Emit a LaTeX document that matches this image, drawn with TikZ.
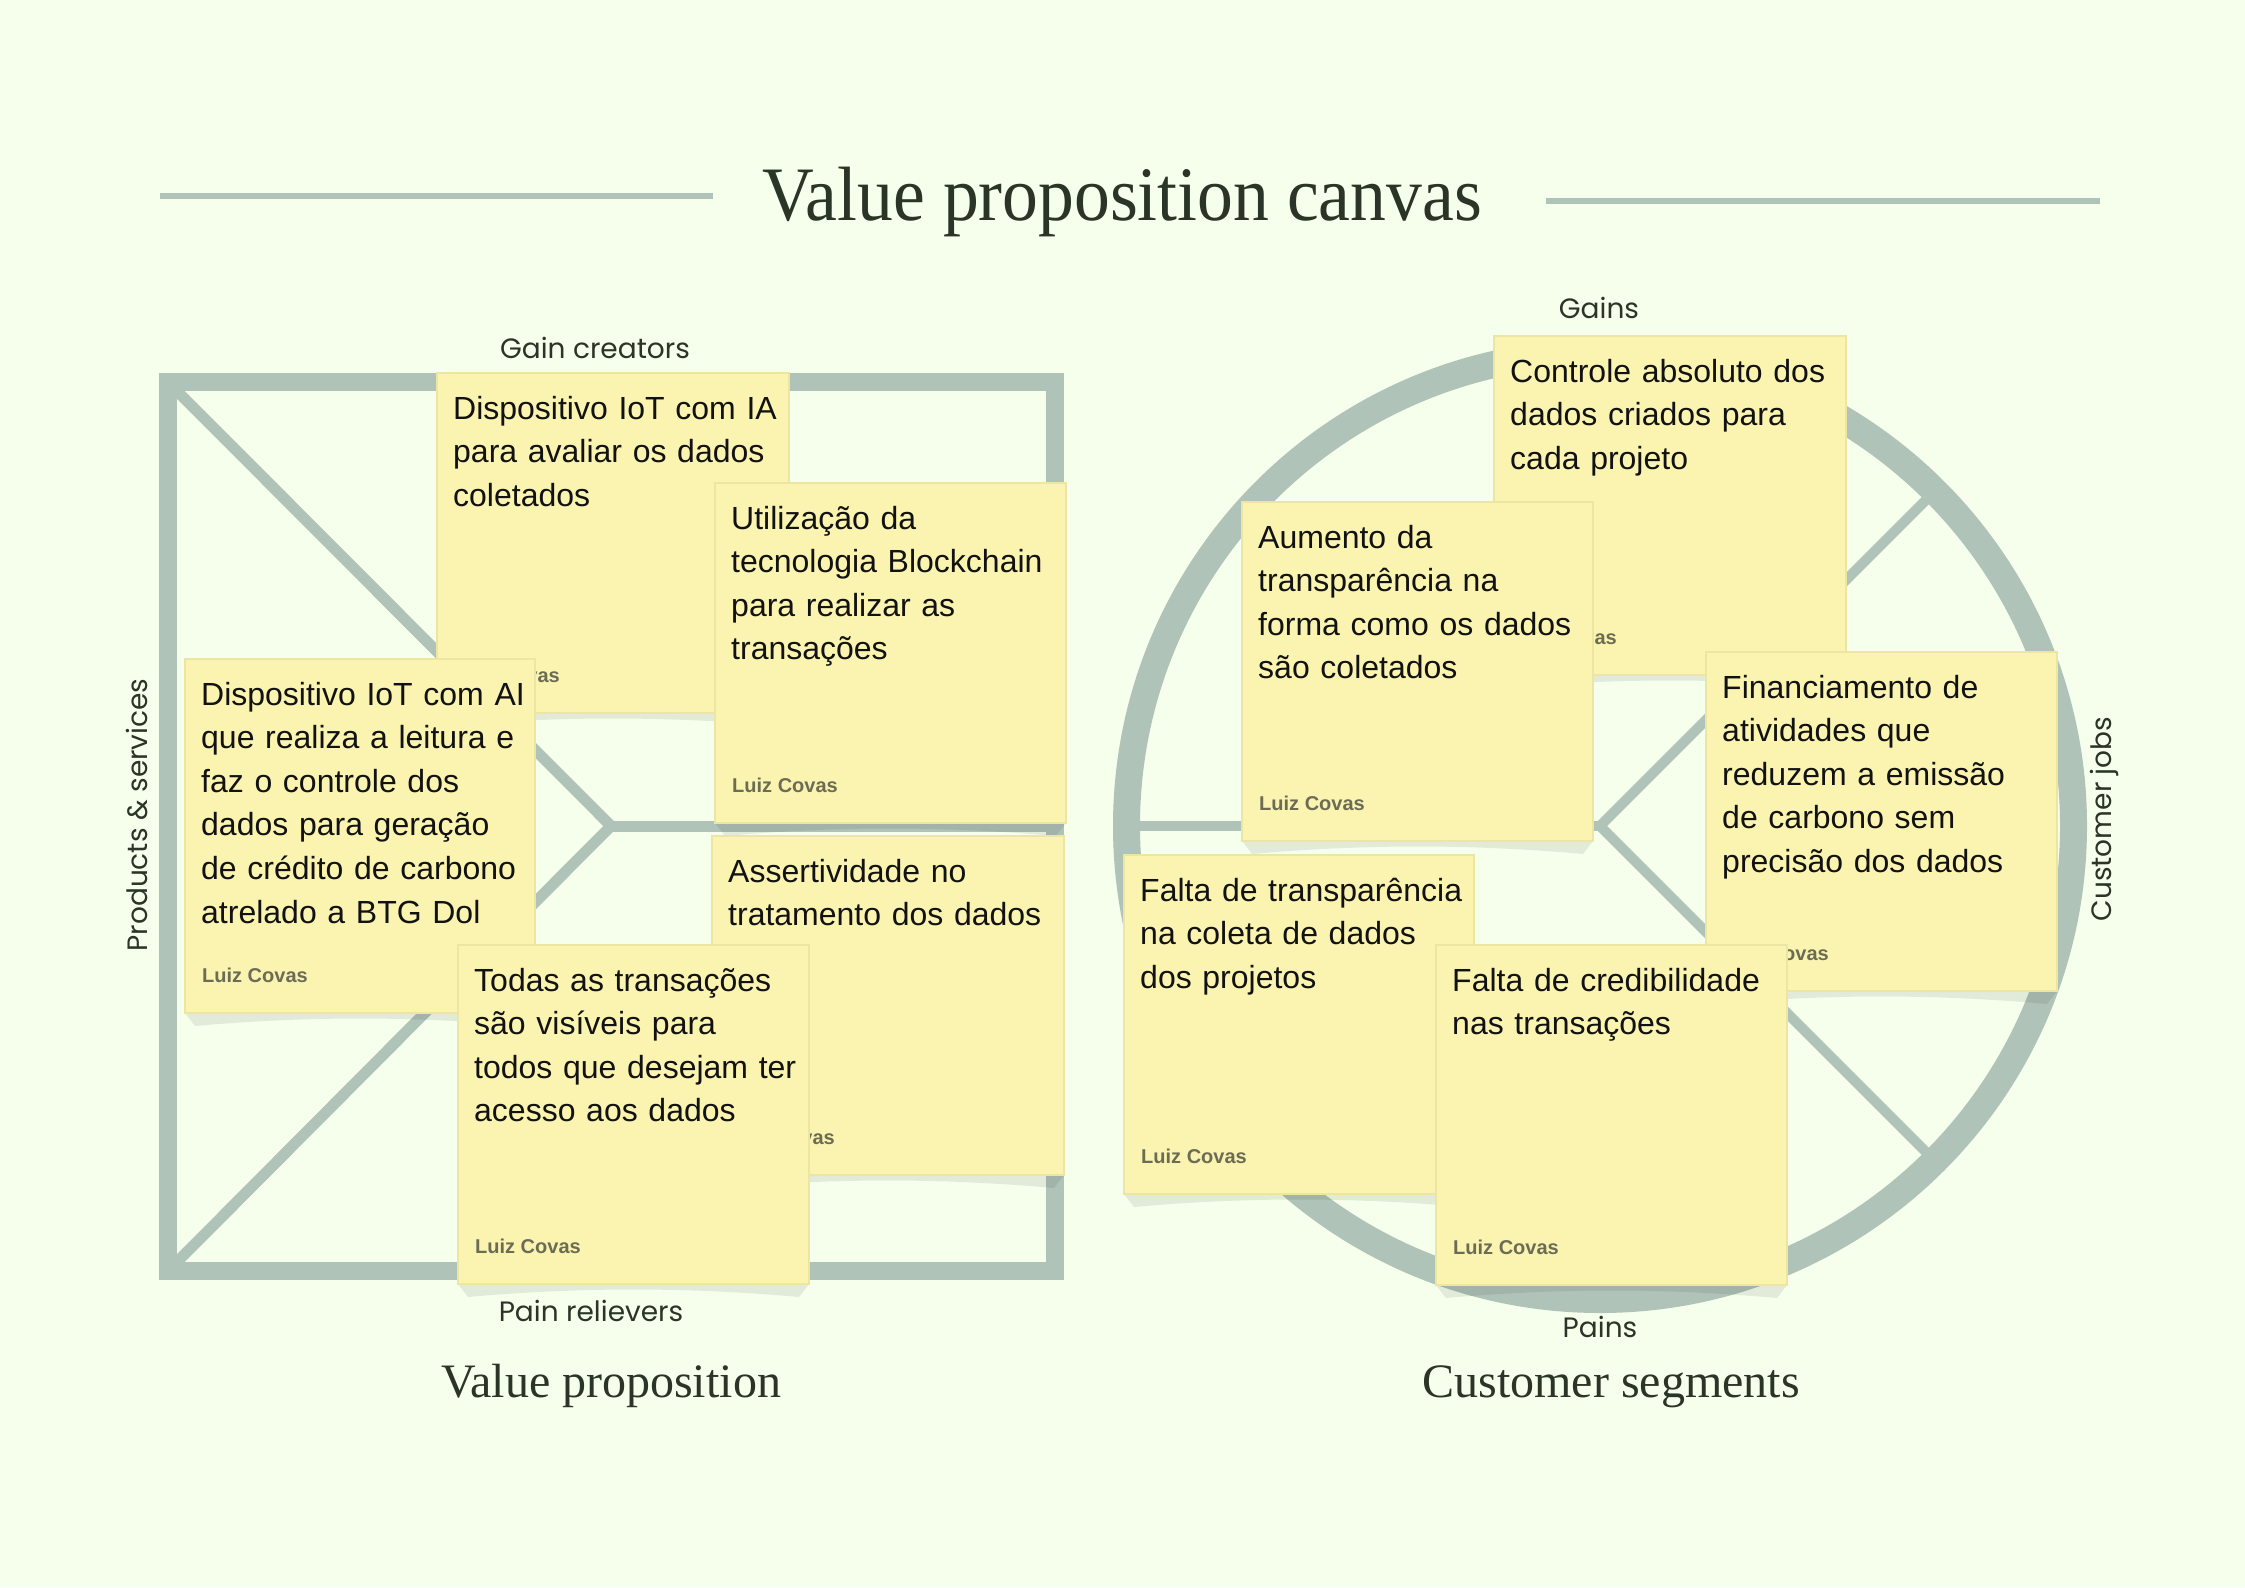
\documentclass[tikz,border=0pt]{standalone}
\usepackage{fontspec}
\usepackage{graphicx}
\setmainfont{Liberation Sans}
\newfontfamily\serifface{Liberation Serif}
\newfontfamily\labelface{Poppins}
\definecolor{bgc}{HTML}{F6FEEC}
\definecolor{framec}{HTML}{B0C3B8}
\definecolor{notefill}{HTML}{FAF4B0}
\definecolor{noteline}{HTML}{EDE5A2}
\definecolor{darkc}{HTML}{2B3527}
\definecolor{authorc}{HTML}{6C6C55}
\tikzset{
  frameline/.style={draw=framec},
  notebox/.style={fill=notefill, draw=noteline, line width=1.5pt, inner sep=0pt, outer sep=0pt},
  notetext/.style={font=\fontsize{32}{43.6}\selectfont, text=black!93, text width=345pt, align=left, inner sep=0pt},
  authortext/.style={font=\fontsize{20}{24}\selectfont\bfseries, text=authorc, inner sep=0pt},
  shadowc/.style={fill=black, fill opacity=0.08},
  labeltext/.style={font=\labelface\fontsize{28}{32}\selectfont, text=darkc, inner sep=0pt},
  titletext/.style={font=\serifface\fontsize{77}{80}\selectfont, text=darkc, inner sep=0pt},
  sectiontext/.style={font=\serifface\fontsize{48}{52}\selectfont, text=darkc, inner sep=0pt}
}
\newcommand\sticky[6]{%
  \fill[shadowc] ({#2},{#3+#5}) -- ({#2+10},{#3+#5+13})
    .. controls ({#2+0.35*#4},{#3+#5+3}) and ({#2+0.65*#4},{#3+#5+3}) ..
    ({#2+#4-10},{#3+#5+13}) -- ({#2+#4},{#3+#5}) -- cycle;
  \node[notebox, minimum width=#4pt, minimum height=#5pt, anchor=north west] (#1) at (#2,#3) {};
  \node[authortext, anchor=base west] (#1a) at ({#2+17},{#3+#5-31}) {Luiz Covas};
  \node[notetext, anchor=base west] (#1t) at ({#2+16},{#3+46}) {#6};
}
\begin{document}
\begin{tikzpicture}[x=1pt,y=-1pt]
\fill[bgc] (0,0) rectangle (2245,1587);
\useasboundingbox (0,0) rectangle (2245,1587);

% title
\draw[frameline, line width=6pt] (160,196) -- (713,196);
\draw[frameline, line width=6pt] (1546,201) -- (2100,201);
\node[titletext, anchor=base] (title) at (1122,220) {\scalebox{0.93}[1]{Value proposition canvas}};

% ---------- Value proposition square ----------
\coordinate (sqc) at (611,826);
\coordinate (sqtl) at (168,382);
\coordinate (sqbl) at (168,1271);
\coordinate (sqr) at (1055,826);
\draw[frameline, line width=11pt] (sqtl) -- (sqc) -- (sqbl);
\draw[frameline, line width=11pt] (sqc) -- (sqr);
\draw[frameline, line width=18pt] (168,382) rectangle (1055,1271);

\node[labeltext, anchor=base] (gc) at (595,358) {Gain creators};
\node[labeltext, anchor=base] (pr) at (591,1321) {Pain relievers};
\node[labeltext, anchor=base, rotate=90] (ps) at (147,815) {Products \& services};
\node[sectiontext, anchor=base] (vp) at (611,1397) {Value proposition};

\sticky{A}{437}{373}{352}{340}{Dispositivo IoT com IA\\para avaliar os dados\\coletados}
\sticky{B}{715}{483}{351}{340}{Utilização da\\tecnologia Blockchain\\para realizar as\\transações}
\sticky{C}{185}{659}{350}{354}{Dispositivo IoT com AI\\que realiza a leitura e\\faz o controle dos\\dados para geração\\de crédito de carbono\\atrelado a BTG Dol}
\sticky{D}{712}{836}{352}{339}{Assertividade no\\tratamento dos dados}
\sticky{E}{458}{945}{351}{339}{Todas as transações\\são visíveis para\\todos que desejam ter\\acesso aos dados}

% ---------- Customer segments circle ----------
\coordinate (cc) at (1600,826);
\coordinate (cl) at (1126,826);
\coordinate (cur) at (1935,491);
\coordinate (clr) at (1935,1161);
\draw[frameline, line width=10pt] (cl) -- (cc);
\draw[frameline, line width=10pt] (cur) -- (cc) -- (clr);
\draw[frameline, line width=27pt] (cc) circle[radius=473.5pt];

\node[labeltext, anchor=base] (gains) at (1599,318) {Gains};
\node[labeltext, anchor=base] (pains) at (1600,1337) {Pains};
\node[labeltext, anchor=base, rotate=90] (cj) at (2111,819) {Customer jobs};
\node[sectiontext, anchor=base] (cs) at (1611,1397) {Customer segments};

\sticky{F}{1494}{336}{352}{339}{Controle absoluto dos\\dados criados para\\cada projeto}
\sticky{G}{1242}{502}{351}{339}{Aumento da\\transparência na\\forma como os dados\\são coletados}
\sticky{H}{1706}{652}{351}{339}{Financiamento de\\atividades que\\reduzem a emissão\\de carbono sem\\precisão dos dados}
\sticky{I}{1124}{855}{350}{339}{Falta de transparência\\na coleta de dados\\dos projetos}
\sticky{J}{1436}{945}{351}{340}{Falta de credibilidade\\nas transações}
\end{tikzpicture}
\end{document}
